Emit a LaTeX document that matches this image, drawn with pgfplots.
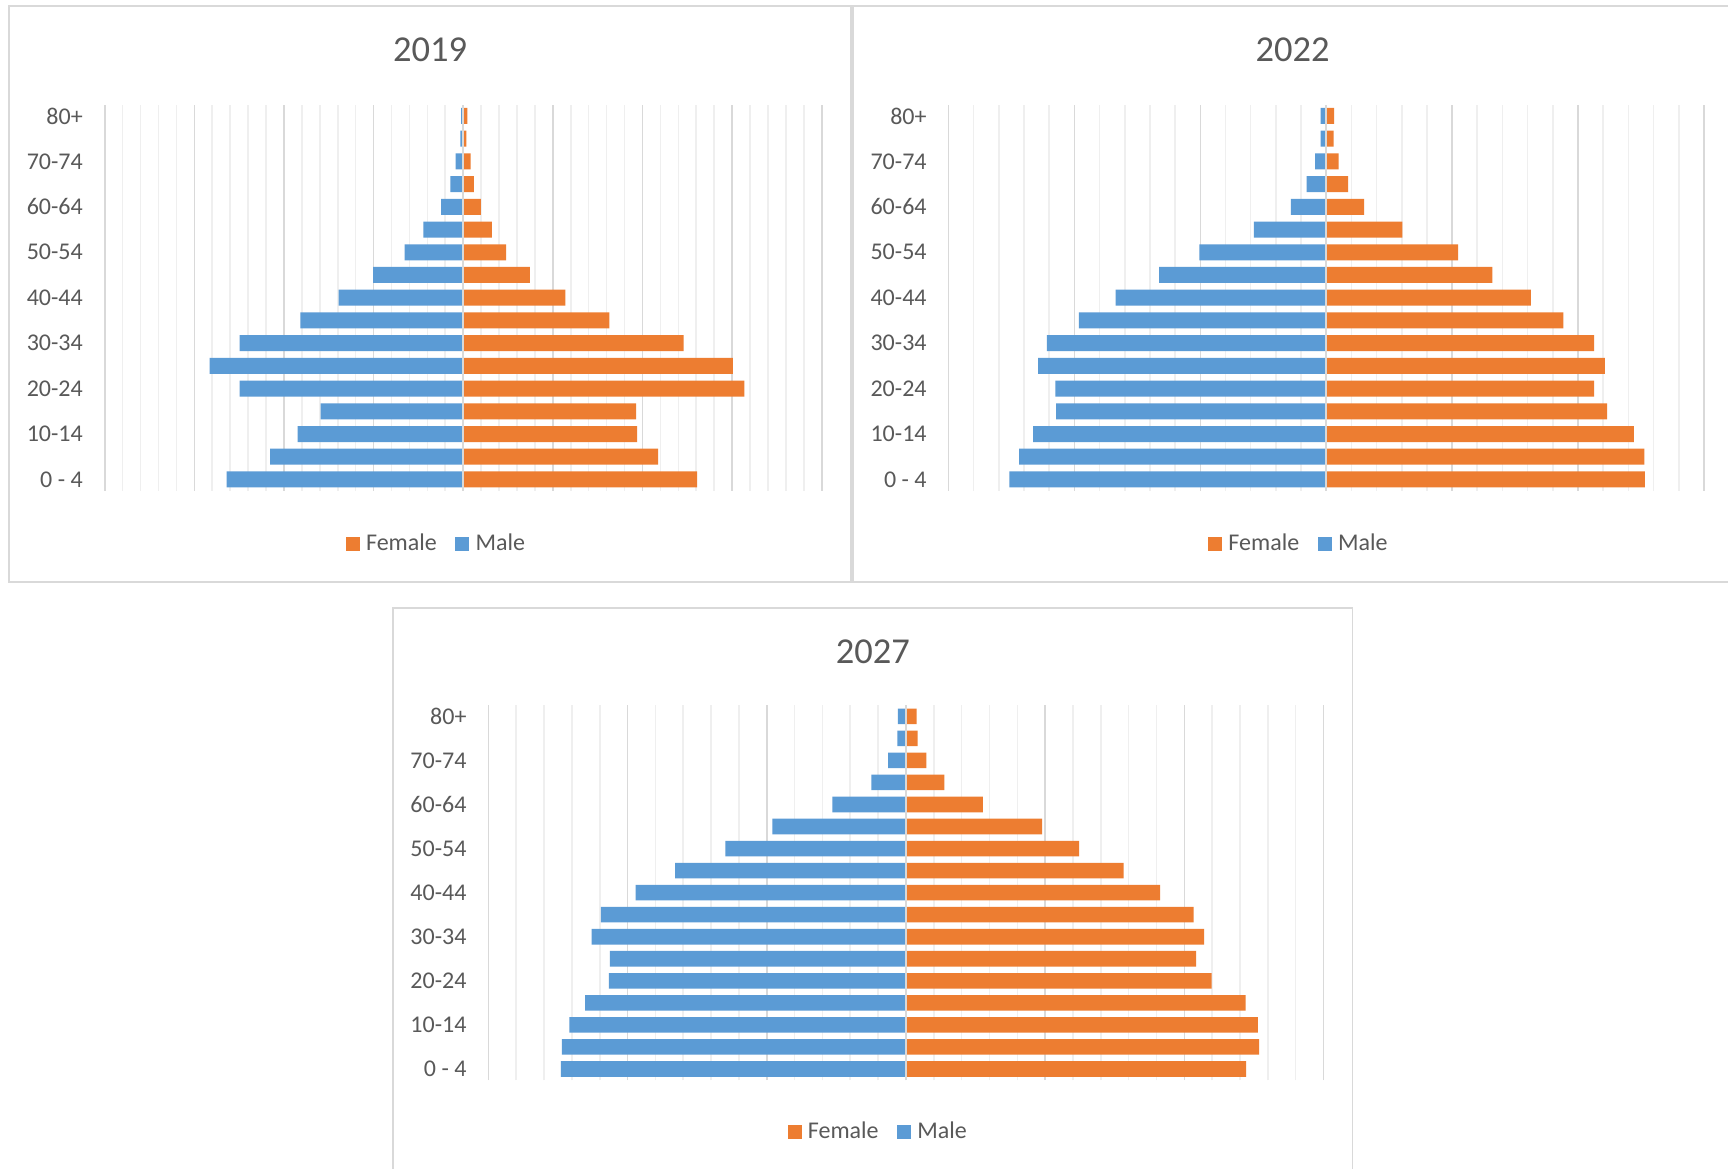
\documentclass[border=0pt]{standalone}
\usepackage{pgfplots}
\pgfplotsset{compat=1.18}
\usepackage{fontspec}
\setmainfont{Carlito}
\definecolor{cOrange}{HTML}{ED7D31}
\definecolor{cBlue}{HTML}{5B9BD5}
\definecolor{cText}{HTML}{595959}
\definecolor{cGridMaj}{HTML}{D9D9D9}
\definecolor{cGridMin}{HTML}{EFEFEF}
\definecolor{cBorder}{HTML}{D9D9D9}

\pgfplotsset{
  pyr/.style={
    scale only axis,
    xbar,
    ymin=-0.5, ymax=16.5,
    ytick={0,2,...,16},
    yticklabels={0 - 4,10-14,20-24,30-34,40-44,50-54,60-64,70-74,80+},
    yticklabel style={font=\fontsize{12pt}{14pt}\selectfont, text=cText, inner sep=0pt, anchor=east, xshift=-6.5pt},
    xticklabels={},
    minor x tick num=4,
    xmajorgrids, xminorgrids,
    major grid style={cGridMaj, line width=0.8pt},
    minor grid style={cGridMin, line width=0.8pt},
    axis line style={draw=none},
    tick style={draw=none},
    legend columns=2,
    legend style={draw=none, fill=none, font=\fontsize{12pt}{14pt}\selectfont, text=cText, anchor=center, inner sep=0pt,
      /tikz/every even column/.append style={column sep=7.2pt}},
    legend image code/.code={\fill[##1] (0pt,-3.5pt) rectangle (7pt,3.5pt); \path (8.2pt,0pt);},
  },
}

\begin{document}
\begin{tikzpicture}
\useasboundingbox (0pt,0pt) rectangle (864pt,584pt);
\fill[white] (0pt,0pt) rectangle (864pt,584pt);
% chart boxes
\draw[cBorder, line width=0.85pt] (4.5pt,293pt) rectangle (425.6pt,581pt);
\draw[cBorder, line width=0.85pt] (426.4pt,293pt) rectangle (872pt,581pt);
\draw[cBorder, line width=0.85pt] (196.5pt,-6pt) rectangle (676.3pt,280pt);

% titles
\node[text=cText, font=\fontsize{18.25pt}{22pt}\selectfont] at (215pt,559.2pt) {2019};
\node[text=cText, font=\fontsize{18.25pt}{22pt}\selectfont] at (646.3pt,559.2pt) {2022};
\node[text=cText, font=\fontsize{18.25pt}{22pt}\selectfont] at (436.4pt,257.9pt) {2027};

% 2019
\begin{axis}[pyr, at={(52.35pt,338.6pt)}, anchor=south west, width=358.5pt, height=193.1pt,
  xmin=-20, xmax=20, xtick={-20,-15,...,20}, bar width=8pt,
  legend style={at={(0.464,-0.138)}}]
\addplot[fill=cOrange, draw=none, bar shift=0pt] coordinates {
 (13.05,0) (10.88,1) (9.70,2) (9.65,3) (15.69,4) (15.05,5) (12.30,6) (8.15,7) (5.70,8)
 (3.72,9) (2.40,10) (1.60,11) (0.98,12) (0.60,13) (0.42,14) (0.18,15) (0.23,16)};
\addlegendentry{Female}
\addplot[fill=cBlue, draw=none, bar shift=0pt] coordinates {
 (-13.2,0) (-10.77,1) (-9.24,2) (-7.95,3) (-12.47,4) (-14.14,5) (-12.47,6) (-9.08,7) (-6.95,8)
 (-5.03,9) (-3.27,10) (-2.22,11) (-1.23,12) (-0.72,13) (-0.42,14) (-0.16,15) (-0.11,16)};
\addlegendentry{Male}
\draw[cGridMaj, line width=0.8pt] (axis cs:0,-0.5) -- (axis cs:0,16.5);
\end{axis}

% 2022
\begin{axis}[pyr, at={(474.25pt,338.6pt)}, anchor=south west, width=377.7pt, height=193.1pt,
  xmin=-15, xmax=15, xtick={-15,-10,...,15}, bar width=8pt,
  legend style={at={(0.465,-0.138)}}]
\addplot[fill=cOrange, draw=none, bar shift=0pt] coordinates {
 (12.66,0) (12.64,1) (12.22,2) (11.16,3) (10.64,4) (11.07,5) (10.64,6) (9.42,7) (8.13,8)
 (6.60,9) (5.24,10) (3.02,11) (1.51,12) (0.87,13) (0.49,14) (0.29,15) (0.31,16)};
\addlegendentry{Female}
\addplot[fill=cBlue, draw=none, bar shift=0pt] coordinates {
 (-12.58,0) (-12.20,1) (-11.64,2) (-10.73,3) (-10.76,4) (-11.44,5) (-11.09,6) (-9.82,7) (-8.36,8)
 (-6.64,9) (-5.04,10) (-2.87,11) (-1.40,12) (-0.78,13) (-0.44,14) (-0.22,15) (-0.22,16)};
\addlegendentry{Male}
\draw[cGridMaj, line width=0.8pt] (axis cs:0,-0.5) -- (axis cs:0,16.5);
\end{axis}

% 2027
\begin{axis}[pyr, at={(244.2pt,44pt)}, anchor=south west, width=417.55pt, height=187.35pt,
  xmin=-15, xmax=15, xtick={-15,-10,...,15}, bar width=7.8pt,
  legend style={at={(0.468,-0.138)}}]
\addplot[fill=cOrange, draw=none, bar shift=0pt] coordinates {
 (12.22,0) (12.69,1) (12.64,2) (12.20,3) (10.98,4) (10.42,5) (10.71,6) (10.33,7) (9.13,8)
 (7.82,9) (6.22,10) (4.89,11) (2.76,12) (1.38,13) (0.73,14) (0.42,15) (0.38,16)};
\addlegendentry{Female}
\addplot[fill=cBlue, draw=none, bar shift=0pt] coordinates {
 (-12.40,0) (-12.36,1) (-12.09,2) (-11.53,3) (-10.67,4) (-10.64,5) (-11.29,6) (-10.96,7) (-9.71,8)
 (-8.29,9) (-6.49,10) (-4.80,11) (-2.64,12) (-1.24,13) (-0.64,14) (-0.31,15) (-0.29,16)};
\addlegendentry{Male}
\draw[cGridMaj, line width=0.8pt] (axis cs:0,-0.5) -- (axis cs:0,16.5);
\end{axis}
\end{tikzpicture}
\end{document}
